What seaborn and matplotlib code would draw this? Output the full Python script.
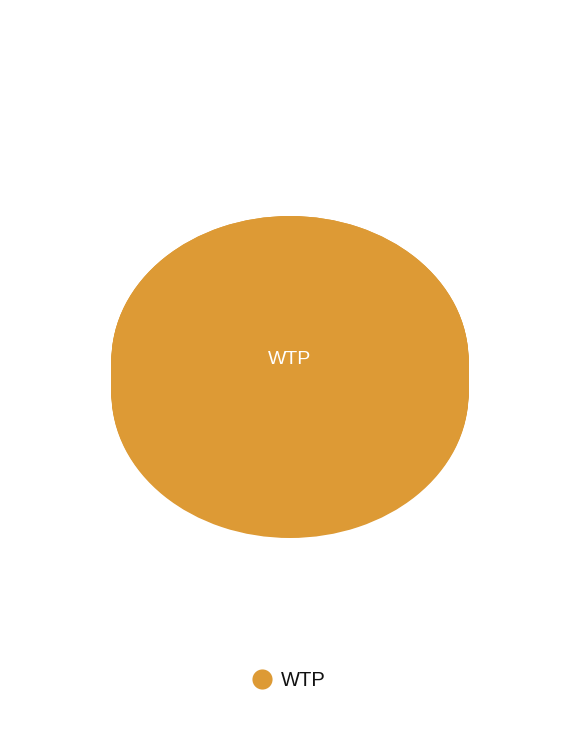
import matplotlib
matplotlib.use("Agg")
import matplotlib.pyplot as plt
from matplotlib.lines import Line2D
import seaborn as sns
import numpy as np

categories = ["WTP"]
values = [100]
colors = ["#DD9A35"]

sns.set_theme(style="white")
plt.rcParams['font.family'] = ['Liberation Sans', 'DejaVu Sans']

W, H = 578, 753
fig = plt.figure(figsize=(W / 100, H / 100), dpi=100)
ax = fig.add_axes([0, 0, 1, 1])

# geometry (pixels)
cx, cy = 290, 360
rx, ry = 178.5, 144
depth = 34 / ry  # in data units (y radius = 1)

# side / depth: stack shifted pies
for off in np.linspace(depth, 0, 40):
    ax.pie(values, colors=colors, startangle=90, counterclock=False,
           center=(0, -off), radius=1, wedgeprops=dict(linewidth=0))
# top face
wedges, _ = ax.pie(values, colors=colors, startangle=90, counterclock=False,
                   center=(0, 0), radius=1, wedgeprops=dict(linewidth=0))

ax.set_aspect('auto')
ax.set_xlim((0 - cx) / rx, (W - cx) / rx)
ax.set_ylim((cy - H) / ry, cy / ry)
ax.axis('off')

ax.text(0, (cy - 360) / ry, categories[0], color="white", fontsize=14,
        ha="center", va="center")

handles = [Line2D([0], [0], marker='o', linestyle='none', markersize=14.5,
                  markerfacecolor=c, markeredgewidth=0) for c in colors]
leg = fig.legend(handles, categories, loc="center",
                 bbox_to_anchor=(289 / W, 1 - 681 / H),
                 frameon=False, fontsize=14.5, handletextpad=0.45,
                 handlelength=1.0)
for t in leg.get_texts():
    t.set_color("#111111")

fig.savefig("out.png", dpi=100)
